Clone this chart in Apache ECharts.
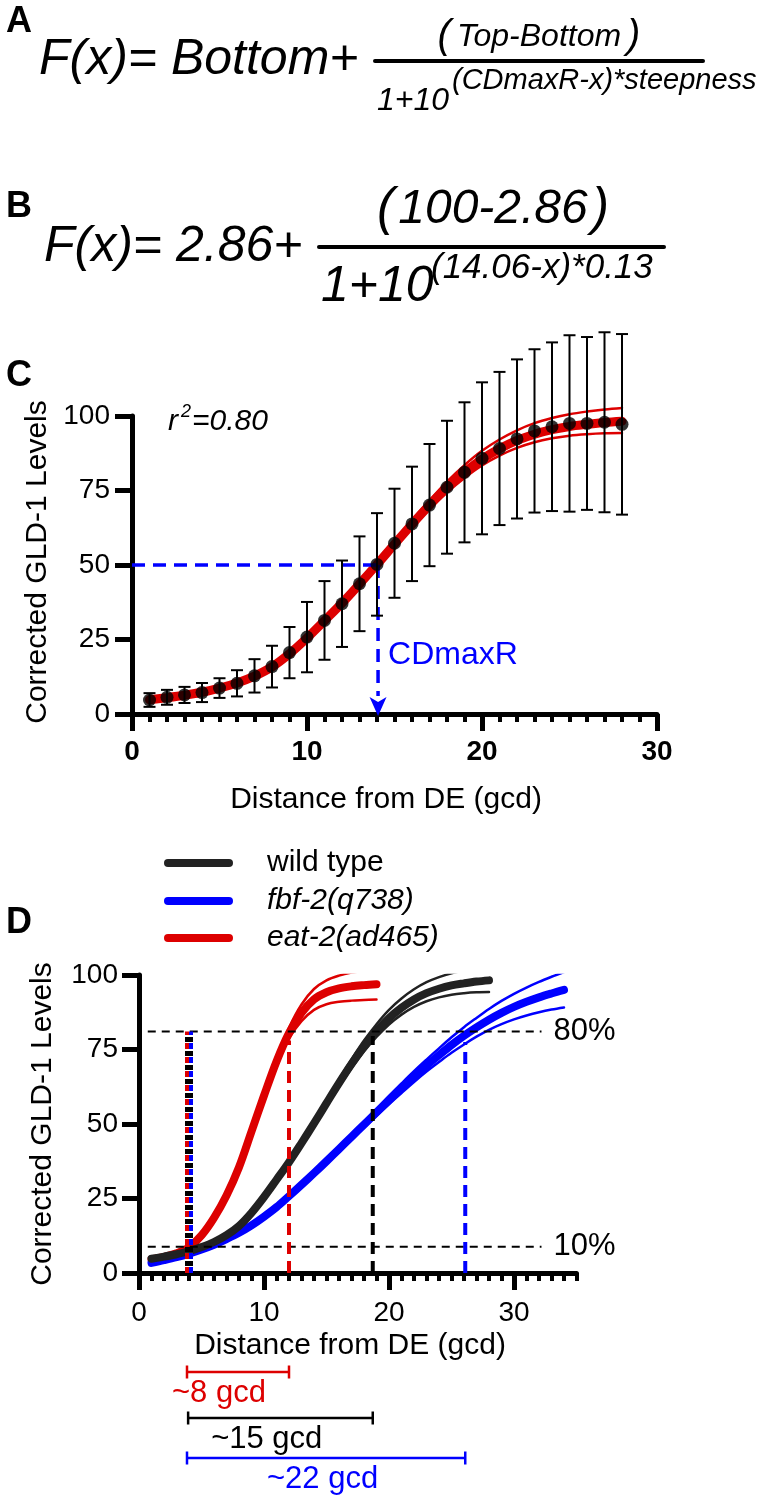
<!DOCTYPE html>
<html><head><meta charset="utf-8">
<script src="https://cdn.jsdelivr.net/npm/echarts@6/dist/echarts.min.js"></script>
<style>html,body{margin:0;padding:0;background:#fff}#c{width:769px;height:1497px}</style>
</head><body><div id="c"></div>
<script>
const FONT = 'Liberation Sans, Arial, Helvetica, sans-serif';

// ---------- Panel C: measured points (mean, SD) ----------
const distC = [1,2,3,4,5,6,7,8,9,10,11,12,13,14,15,16,17,18,19,20,21,22,23,24,25,26,27,28];
const gldMeanC = [4.7,5.6,6.4,7.2,8.7,10.3,12.8,15.9,20.6,25.8,31.4,37.0,43.7,50.2,57.3,63.8,70.1,76.1,81.1,85.8,89.1,92.3,95.0,96.4,97.5,97.5,97.9,97.2];
const gldSdC = [2.3,2.5,2.7,3.2,3.3,4.4,5.6,7.0,8.6,11.8,13.2,14.5,15.9,17.2,18.3,19.2,20.5,22.3,23.5,25.5,25.7,26.7,27.4,28.3,29.6,29.0,30.2,30.3];

// ---------- wild type fit and confidence band ----------
const wtX = [1,2,3,4,5,6,7,8,9,10,11,12,13,14,15,16,17,18,19,20,21,22,23,24,25,26,27,28];
const wtFit = [4.8,5.5,6.3,7.3,8.7,10.4,12.7,15.8,20.2,25.5,31.3,37.2,43.6,50.2,57.0,63.7,70.1,76.0,81.1,85.5,89.0,91.8,93.9,95.4,96.5,97.2,97.8,98.2];
const wtUpper = [5.4,6.1,6.9,7.9,9.3,11.0,13.3,16.4,20.8,26.1,31.9,37.8,44.3,51.0,58.0,65.0,71.7,78.0,83.5,88.3,92.1,95.2,97.6,99.3,100.6,101.5,102.2,102.7];
const wtLower = [4.2,4.9,5.7,6.7,8.1,9.8,12.1,15.2,19.6,24.9,30.7,36.6,42.9,49.4,56.0,62.5,68.7,74.3,79.2,83.4,86.7,89.3,91.2,92.5,93.4,93.9,94.2,94.3];

// ---------- eat-2(ad465) ----------
const eatX = [1,2,3,4,5,6,7,8,9,10,11,12,13,14,15,16,17,18,19];
const eatFit = [4.6,5.4,6.6,8.6,12.6,18.5,26.0,35.5,47.5,59.5,71.0,80.5,87.3,91.8,94.2,95.5,96.2,96.6,96.9];
const eatUpper = [5.2,6.0,7.2,9.2,13.2,19.1,26.6,36.1,48.1,60.1,72.0,82.3,90.1,95.3,98.2,99.8,100.8,101.4,102.0];
const eatLower = [4.0,4.8,6.0,8.0,12.0,17.9,25.4,34.9,46.9,58.9,70.0,78.7,84.5,88.3,90.2,91.0,91.4,91.6,91.8];

// ---------- fbf-2(q738) ----------
const fbfX = [1,2,3,4,5,6,7,8,9,10,11,12,13,14,15,16,17,18,19,20,21,22,23,24,25,26,27,28,29,30,31,32,33,34];
const fbfFit = [3.4,4.3,5.3,6.5,7.9,9.5,11.4,13.5,16.0,18.9,22.1,25.8,29.6,33.5,37.5,41.6,45.7,49.8,53.9,58.0,62.0,65.9,69.6,73.1,76.5,79.6,82.4,85.0,87.3,89.3,91.0,92.5,93.8,95.0];
const fbfUpper = [4.0,4.9,5.9,7.1,8.5,10.1,12.0,14.1,16.6,19.5,22.7,26.4,30.2,34.1,38.1,42.2,46.5,50.8,55.1,59.4,63.6,67.7,71.6,75.4,79.1,82.5,85.6,88.6,91.3,93.7,95.8,97.7,99.4,101.0];
const fbfLower = [2.8,3.7,4.7,5.9,7.3,8.9,10.8,12.9,15.4,18.3,21.5,25.2,29.0,32.9,36.9,41.0,44.9,48.8,52.7,56.6,60.4,64.1,67.6,70.8,73.9,76.7,79.3,81.6,83.5,85.1,86.4,87.5,88.4,89.1];

// ---------- ticks & reference values ----------
const yTicks = [0,25,50,75,100];
const xTicks = [0,10,20,30];
const cdmaxR = 14.06;
const halfLevel = 50;
const level80 = 81;
const level10 = 8.8;
const refLineFrom = 0.7, refLineTo = 32.2;
const eatCross = [3.84, 12.0];
const wtCross = [3.95, 18.7];
const fbfCross = [4.16, 26.1];
const crossTop = [81, 78, 79.5, 77.5];
const bracketFrom = [3.84, 3.93, 3.84];
const bracketTo = [12.0, 18.7, 26.1];
const bracketLabels = ['~8 gcd', '~15 gcd', '~22 gcd'];
const legendNames = ['wild type', 'fbf-2(q738)', 'eat-2(ad465)'];

const RED = '#dd0000', BLUE = '#0000ff', DARK = '#222222';
const zip = (xs, ys) => xs.map((x, i) => [x, ys[i]]);

function curve(name, xs, ys, color, width, grid, clip, z) {
  return {
    type: 'line', name, xAxisIndex: grid === 0 ? 0 : 2, yAxisIndex: grid,
    data: zip(xs, ys), smooth: 0.35, showSymbol: false, symbol: 'none',
    clip, z: z || 2, silent: true,
    lineStyle: { color, width, cap: 'round', join: 'round' }
  };
}
function seg(pts, color, width, dash, grid, offset, z, extra) {
  return Object.assign({
    type: 'line', xAxisIndex: grid === 0 ? 0 : 2, yAxisIndex: grid, data: pts,
    showSymbol: false, symbol: 'none', clip: false, silent: true, z: z || 3,
    lineStyle: { color, width, type: dash, dashOffset: offset || 0, cap: 'butt' }
  }, extra || {});
}

function xAxes(grid, max, bold, margin) {
  return [
    { gridIndex: grid, type: 'value', min: 0, max, interval: 10, position: 'bottom',
      axisLine: { show: true, onZero: false, lineStyle: { color: '#000', width: 5 } },
      axisTick: { show: true, length: 17, customValues: xTicks, lineStyle: { color: '#000', width: 5 } },
      axisLabel: { show: true, customValues: xTicks, margin, fontSize: 28, fontWeight: bold ? 'bold' : 'normal', color: '#000', fontFamily: FONT },
      splitLine: { show: false } },
    { gridIndex: grid, type: 'value', min: 0, max, interval: 1, position: 'bottom',
      axisLine: { show: false, onZero: false },
      axisTick: { show: true, length: 8, lineStyle: { color: '#000', width: 4 } },
      axisLabel: { show: false }, splitLine: { show: false } }
  ];
}
function yAxis(grid, margin) {
  return { gridIndex: grid, type: 'value', min: 0, max: 100, interval: 25,
    axisLine: { show: true, onZero: false, lineStyle: { color: '#000', width: 5 } },
    axisTick: { show: true, length: 17, lineStyle: { color: '#000', width: 5 } },
    axisLabel: { margin, fontSize: 28, color: '#000', fontFamily: FONT },
    splitLine: { show: false } };
}

function txt(x, y, text, size, opts) {
  opts = opts || {};
  return { type: 'text', x, y, rotation: opts.rot || 0, z: 10,
    style: { text, fill: opts.color || '#000', fontSize: size, fontFamily: FONT,
      fontStyle: opts.italic ? 'italic' : 'normal', fontWeight: opts.bold ? 'bold' : 'normal',
      align: opts.align || 'left', textAlign: opts.align || 'left',
      verticalAlign: 'middle', textVerticalAlign: 'middle', rich: opts.rich } };
}
function hline(x1, x2, y, w, color) {
  return { type: 'line', z: 10, shape: { x1, y1: y, x2, y2: y }, style: { stroke: color || '#000', lineWidth: w, lineCap: 'round' } };
}

const errData = distC.map((x, i) => [x, gldMeanC[i] - gldSdC[i], gldMeanC[i] + gldSdC[i]]);

const series = [
  // ---- Panel C ----
  curve('fitC', wtX, wtFit, RED, 9, 0, false, 2),
  curve('upC', wtX, wtUpper, RED, 2.5, 0, false, 2),
  curve('loC', wtX, wtLower, RED, 2.5, 0, false, 2),
  seg([[0, halfLevel], [cdmaxR, halfLevel]], BLUE, 3.5, [13, 8], 0, 0, 3),
  seg([[cdmaxR, halfLevel], [cdmaxR, 6]], BLUE, 3.5, [13, 8], 0, 0, 3),
  { type: 'custom', xAxisIndex: 0, yAxisIndex: 0, data: [[cdmaxR, 0]], silent: true, z: 4,
    renderItem: (p, api) => {
      const c = api.coord([api.value(0), api.value(1)]);
      return { type: 'group', children: [
        { type: 'polygon', shape: { points: [[c[0], c[1] + 2], [c[0] - 8.5, c[1] - 17], [c[0], c[1] - 12], [c[0] + 8.5, c[1] - 17]] }, style: { fill: BLUE } },
        { type: 'text', x: c[0] + 10, y: c[1] - 59, style: { text: 'CDmaxR', fill: BLUE, fontSize: 32, fontFamily: FONT, align: 'left', textAlign: 'left', verticalAlign: 'middle', textVerticalAlign: 'middle' } }
      ] };
    } },
  { type: 'custom', xAxisIndex: 0, yAxisIndex: 0, data: errData, encode: { x: 0, y: [1, 2] }, clip: false, silent: true, z: 5,
    renderItem: (p, api) => {
      const x = api.value(0);
      const lo = api.coord([x, api.value(1)]), hi = api.coord([x, api.value(2)]);
      const w = 6, st = { stroke: '#000', lineWidth: 2 };
      return { type: 'group', children: [
        { type: 'line', shape: { x1: hi[0], y1: hi[1], x2: lo[0], y2: lo[1] }, style: st },
        { type: 'line', shape: { x1: hi[0] - w, y1: hi[1], x2: hi[0] + w, y2: hi[1] }, style: st },
        { type: 'line', shape: { x1: lo[0] - w, y1: lo[1], x2: lo[0] + w, y2: lo[1] }, style: st }
      ] };
    } },
  { type: 'scatter', xAxisIndex: 0, yAxisIndex: 0, data: zip(distC, gldMeanC), symbolSize: 13, itemStyle: { color: '#000' }, z: 6, silent: true, clip: false },

  // ---- Panel D curves ----
  curve('eat-2(ad465)', eatX, eatFit, RED, 8, 1, true, 2),
  curve('eatUp', eatX, eatUpper, RED, 2.5, 1, true, 2),
  curve('eatLo', eatX, eatLower, RED, 2.5, 1, true, 2),
  curve('fbf-2(q738)', fbfX, fbfFit, BLUE, 8, 1, true, 2),
  curve('fbfUp', fbfX, fbfUpper, BLUE, 2.5, 1, true, 2),
  curve('fbfLo', fbfX, fbfLower, BLUE, 2.5, 1, true, 2),
  curve('wild type', wtX, wtFit, DARK, 8, 1, true, 2),
  curve('wtUp', wtX, wtUpper, DARK, 2.5, 1, true, 2),
  curve('wtLo', wtX, wtLower, DARK, 2.5, 1, true, 2),

  // ---- Panel D reference lines ----
  seg([[refLineFrom, level80], [refLineTo, level80]], '#000', 2, [8, 6], 1, 0, 4,
    { endLabel: { show: true, formatter: '80%', color: '#000', fontSize: 31, fontFamily: FONT, distance: 12 } }),
  seg([[refLineFrom, level10], [refLineTo, level10]], '#000', 2, [8, 6], 1, 0, 4,
    { endLabel: { show: true, formatter: '10%', color: '#000', fontSize: 31, fontFamily: FONT, distance: 12 } }),
  seg([[eatCross[0], 0], [eatCross[0], crossTop[0]]], RED, 4, [6, 8], 1, 0, 4),
  seg([[eatCross[0], 0], [eatCross[0], crossTop[0]]], '#000', 4, [5, 9], 1, 7, 4),
  seg([[fbfCross[0], 0], [fbfCross[0], crossTop[0]]], BLUE, 4, [6, 8], 1, 0, 4),
  seg([[fbfCross[0], 0], [fbfCross[0], crossTop[0]]], '#000', 4, [5, 9], 1, 7, 4),
  seg([[eatCross[1], 0], [eatCross[1], crossTop[1]]], RED, 4, [12, 7], 1, 0, 4),
  seg([[wtCross[1], 0], [wtCross[1], crossTop[2]]], '#000', 4, [12, 7], 1, 0, 4),
  seg([[fbfCross[1], 0], [fbfCross[1], crossTop[3]]], BLUE, 4, [12, 7], 1, 0, 4),

  // ---- brackets under panel D ----
  { type: 'custom', xAxisIndex: 2, yAxisIndex: 1, clip: false, silent: true, z: 5,
    data: bracketFrom.map((f, i) => [f, bracketTo[i], 0]),
    renderItem: (p, api) => {
      const i = p.dataIndex;
      const rowOff = [99, 145, 185], labOff = [-15, 23, 80], cols = [RED, '#000', BLUE];
      const a = api.coord([api.value(0), api.value(2)]), b = api.coord([api.value(1), api.value(2)]);
      const y = a[1] + rowOff[i], h = 6.5, st = { stroke: cols[i], lineWidth: 2.5 };
      return { type: 'group', children: [
        { type: 'line', shape: { x1: a[0], y1: y, x2: b[0], y2: y }, style: st },
        { type: 'line', shape: { x1: a[0], y1: y - h, x2: a[0], y2: y + h }, style: st },
        { type: 'line', shape: { x1: b[0], y1: y - h, x2: b[0], y2: y + h }, style: st },
        { type: 'text', x: a[0] + labOff[i], y: y + 21, style: { text: bracketLabels[i], fill: cols[i], fontSize: 31, fontFamily: FONT, align: 'left', textAlign: 'left', verticalAlign: 'middle', textVerticalAlign: 'middle' } }
      ] };
    } }
];

const graphic = [
  // panel letters
  txt(6, 22, 'A', 36, { bold: true }),
  txt(6, 207, 'B', 36, { bold: true }),
  txt(6, 376, 'C', 36, { bold: true }),
  txt(6, 923, 'D', 36, { bold: true }),
  // equation A
  txt(39, 60, 'F(x)= Bottom+', 50, { italic: true }),
  hline(375, 703, 61, 4),
  txt(539, 37, '{p|(}{t|Top-Bottom}{p|)}', 32, { italic: true, align: 'center',
    rich: { p: { fontSize: 40, fontStyle: 'italic', fontFamily: FONT, padding: [0, 6, 0, 6] }, t: { fontSize: 32, fontStyle: 'italic', fontFamily: FONT } } }),
  txt(377, 101, '1+10', 32, { italic: true }),
  txt(452, 81, '(CDmaxR-x)*steepness', 29, { italic: true }),
  // equation B
  txt(44, 247, 'F(x)= 2.86+', 50, { italic: true }),
  hline(319, 664, 247, 4),
  txt(493, 210, '{p|(}{t|100-2.86}{p|)}', 48, { italic: true, align: 'center',
    rich: { p: { fontSize: 52, fontStyle: 'italic', fontFamily: FONT, padding: [0, 4, 0, 4] }, t: { fontSize: 48, fontStyle: 'italic', fontFamily: FONT } } }),
  txt(321, 287, '1+10', 50, { italic: true }),
  txt(431, 268, '(14.06-x)*0.13', 35, { italic: true }),
  // panel C annotations
  txt(168, 422, 'r', 30, { italic: true }),
  txt(181, 412, '2', 18, { italic: true }),
  txt(192, 422, '=0.80', 30, { italic: true }),
  txt(38, 562, 'Corrected GLD-1 Levels', 30, { align: 'center', rot: Math.PI / 2 }),
  txt(386, 800, 'Distance from DE (gcd)', 30, { align: 'center' }),
  // panel D
  txt(43, 1124, 'Corrected GLD-1 Levels', 30, { align: 'center', rot: Math.PI / 2 }),
  txt(350, 1346, 'Distance from DE (gcd)', 30, { align: 'center' }),
  hline(168, 229, 863, 8, DARK),
  hline(168, 229, 901, 8, BLUE),
  hline(168, 229, 938, 8, RED),
  txt(267, 863, legendNames[0], 30),
  txt(267, 901, legendNames[1], 30, { italic: true }),
  txt(267, 938, legendNames[2], 30, { italic: true })
];

const chart = echarts.init(document.getElementById('c'), null, { renderer: 'canvas', width: 769, height: 1497 });
chart.setOption({
  animation: false,
  backgroundColor: '#ffffff',
  textStyle: { fontFamily: FONT },
  grid: [
    { left: 132, top: 416, width: 525, height: 298 },
    { left: 139, top: 975, width: 437.5, height: 298 }
  ],
  xAxis: [...xAxes(0, 30, true, 24), ...xAxes(1, 35, false, 26)],
  yAxis: [yAxis(0, 22), yAxis(1, 21)],
  series,
  graphic
});
</script></body></html>
